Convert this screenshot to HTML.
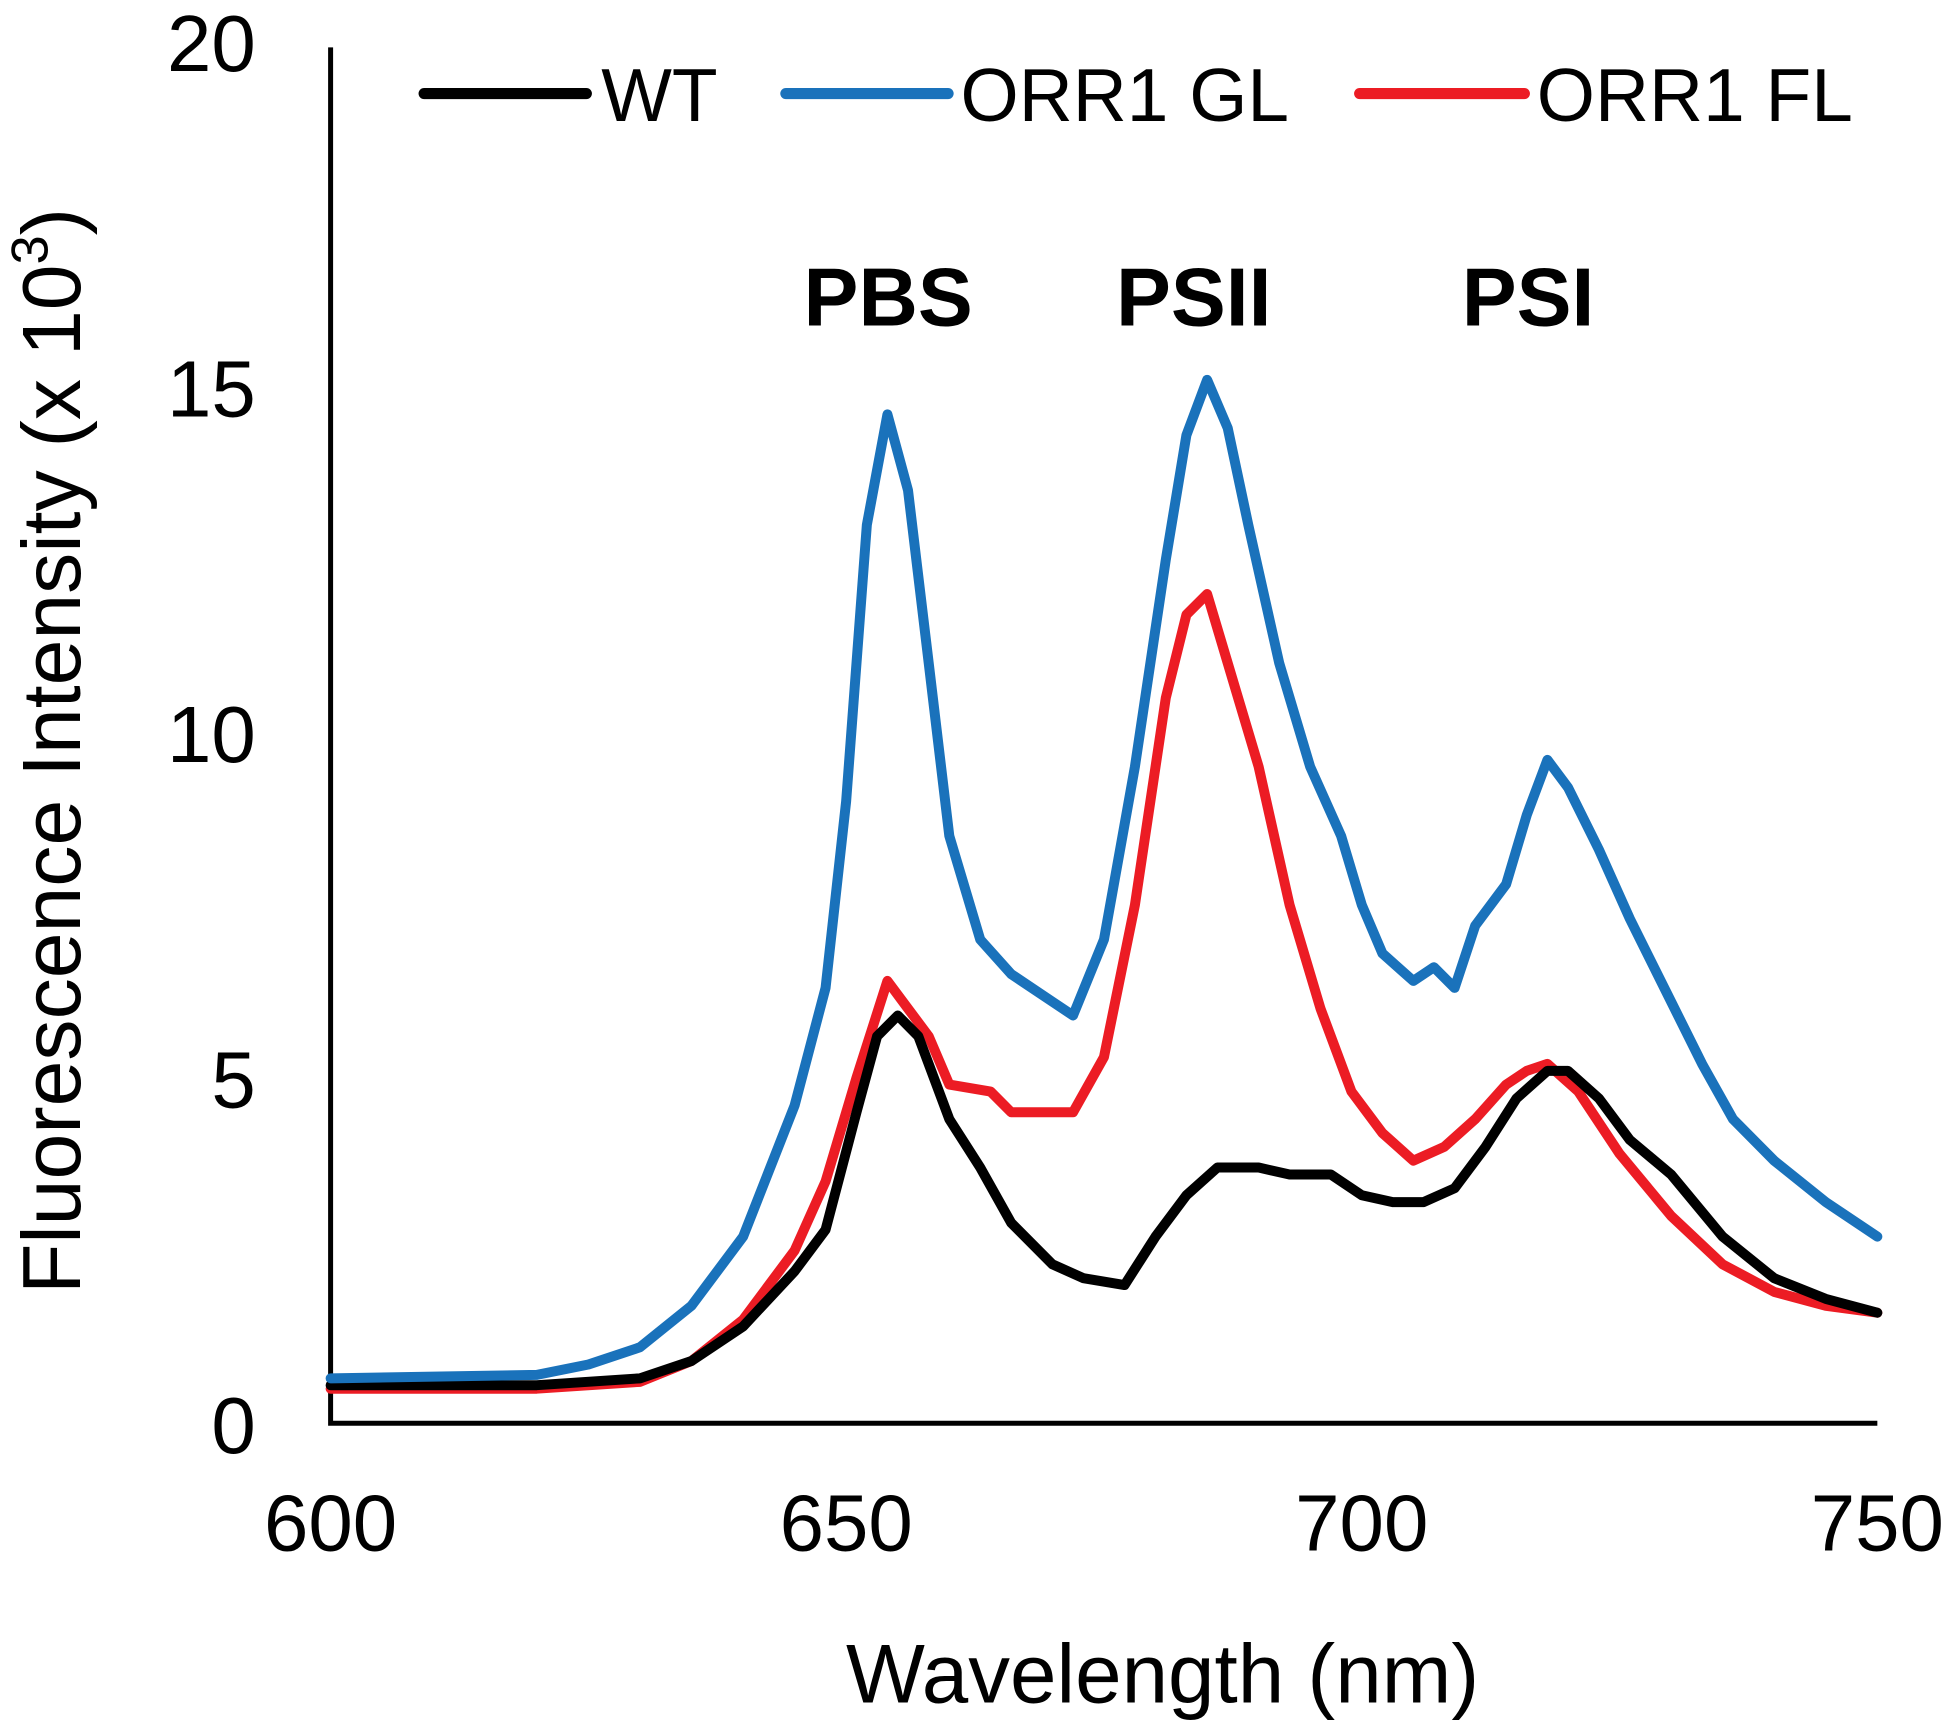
<!DOCTYPE html>
<html><head><meta charset="utf-8"><style>
html,body{margin:0;padding:0;background:#fff;}
svg{display:block;font-family:"Liberation Sans",Arial,sans-serif;}
</style></head><body>
<svg id="chart" width="1946" height="1721" viewBox="0 0 1560 1379.7" xmlns="http://www.w3.org/2000/svg">
<g id="axes"></g>
<g id="series"></g>
<g>
  <line x1="340" y1="75" x2="470" y2="75" stroke="#000" stroke-width="9" stroke-linecap="round"/>
  <text x="482" y="97" font-size="60">WT</text>
  <line x1="630" y1="75" x2="760" y2="75" stroke="#1a72bb" stroke-width="9" stroke-linecap="round"/>
  <text x="770" y="97" font-size="60">ORR1 GL</text>
  <line x1="1090" y1="75" x2="1222" y2="75" stroke="#ec1c24" stroke-width="9" stroke-linecap="round"/>
  <text x="1232" y="97" font-size="60">ORR1 FL</text>
</g>
<text x="712" y="261" font-size="66" font-weight="bold" text-anchor="middle">PBS</text>
<text x="957" y="261" font-size="66" font-weight="bold" text-anchor="middle">PSII</text>
<text x="1225" y="261" font-size="66" font-weight="bold" text-anchor="middle">PSI</text>
<text x="932" y="1365" font-size="67" text-anchor="middle">Wavelength (nm)</text>
<text transform="translate(64,602) rotate(-90)" font-size="66" text-anchor="middle">Fluorescence Intensity (x 10<tspan font-size="42" dy="-26">3</tspan><tspan dy="26">)</tspan></text>
</svg>
<script>
const xTicks=[600,650,700,750];
const yTicks=[0,5,10,15,20];
const glX=[600,620,625,630,635,640,645,648,650,652,654,656,658,660,663,666,670,672,675,678,681,683,685,687,689,692,695,698,700,702,705,707,709,711,714,716,718,720,723,726,730,733,736,740,745,750];
const glY=[0.65,0.7,0.85,1.1,1.7,2.7,4.6,6.3,9,13,14.6,13.5,11,8.5,7,6.5,6.1,5.9,7,9.5,12.5,14.3,15.1,14.4,13,11,9.5,8.5,7.5,6.8,6.4,6.6,6.3,7.2,7.8,8.8,9.6,9.2,8.3,7.3,6.1,5.2,4.4,3.8,3.2,2.7];
const flX=[600,620,630,635,640,645,648,651,654,656,658,660,664,666,670,672,675,678,681,683,685,687,690,693,696,699,702,705,708,711,714,716,718,721,725,730,735,740,745,750];
const flY=[0.5,0.5,0.6,0.9,1.5,2.5,3.5,5,6.4,6.0,5.6,4.9,4.8,4.5,4.5,4.5,5.3,7.5,10.5,11.7,12.0,11.0,9.5,7.5,6.0,4.8,4.2,3.8,4.0,4.4,4.9,5.1,5.2,4.8,3.9,3.0,2.3,1.9,1.7,1.6];
const wtX=[600,620,630,635,640,645,648,651,653,655,657,660,663,666,670,673,677,680,683,686,690,693,697,700,703,706,709,712,715,718,720,723,726,730,735,740,745,750];
const wtY=[0.55,0.55,0.65,0.9,1.4,2.2,2.8,4.5,5.6,5.9,5.6,4.4,3.7,2.9,2.3,2.1,2.0,2.7,3.3,3.7,3.7,3.6,3.6,3.3,3.2,3.2,3.4,4.0,4.7,5.1,5.1,4.7,4.1,3.6,2.7,2.1,1.8,1.6];
const X0=265,X1=1505,Y0=1141,Y1=33;
function sx(v){return X0+(v-600)/150*(X1-X0);}
function sy(v){return Y0-(v/20)*(Y0-Y1);}
const NS="http://www.w3.org/2000/svg";
const axes=document.getElementById('axes');
const ser=document.getElementById('series');
function mk(t,a,p){const e=document.createElementNS(NS,t);for(const k in a)e.setAttribute(k,a[k]);p.appendChild(e);return e;}
let ax=mk('path',{d:`M${X0},38 L${X0},${Y0} L${X1},${Y0}`,fill:'none',stroke:'#000','stroke-width':4},axes);


xTicks.forEach(v=>{const t=mk('text',{x:sx(v),y:1243,'font-size':64,'text-anchor':'middle'},axes);t.textContent=v;

});
yTicks.forEach(v=>{const t=mk('text',{x:205,y:sy(v)+24,'font-size':64,'text-anchor':'end'},axes);t.textContent=v;

});
function line(xs,ys,c){return mk('path',{d:xs.map((x,i)=>(i?'L':'M')+sx(x).toFixed(1)+','+sy(ys[i]).toFixed(1)).join(' '),fill:'none',stroke:c,'stroke-width':8,'stroke-linejoin':'round','stroke-linecap':'round'},ser);}
let a=line(flX,flY,'#ec1c24');


let b=line(wtX,wtY,'#000');


let c=line(glX,glY,'#1a72bb');


</script>
</body></html>
